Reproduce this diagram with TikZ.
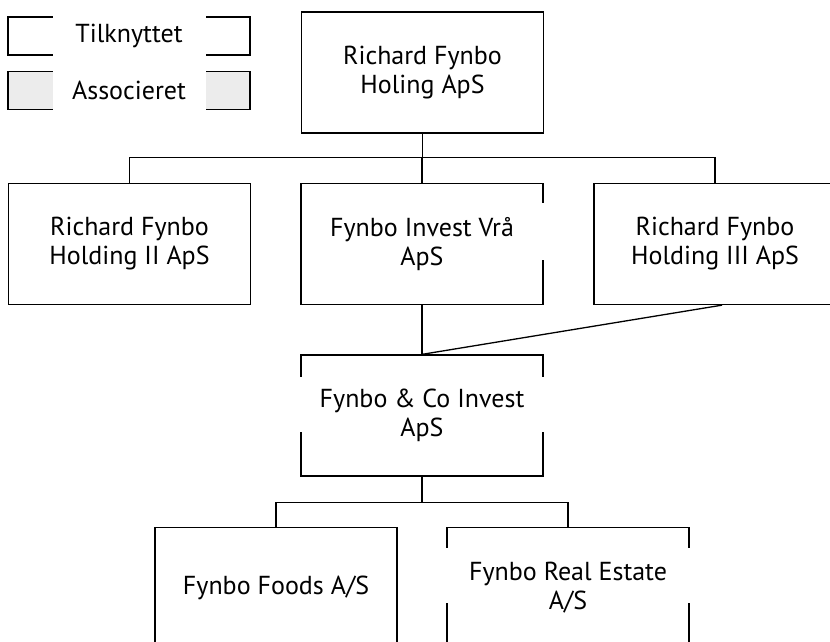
\documentclass[tikz,border=0pt]{standalone}
\usepackage{fontspec}
\setmainfont{PT Sans}
\usetikzlibrary{positioning}
\definecolor{assocgray}{RGB}{236,236,236}

\begin{document}
\begin{tikzpicture}[x=1pt, y=-1pt, line width=1.3pt,
  selskab/.style={draw, minimum width=242pt, minimum height=121pt, align=center, inner sep=0pt, font=\fontsize{26}{29}\selectfont},
  legende/.style={draw, minimum width=242pt, minimum height=38pt},
  legtekst/.style={fill=white, minimum width=153pt, minimum height=44pt, inner sep=0pt, font=\fontsize{26}{29}\selectfont}]
\useasboundingbox (0,0) rectangle (830,641);
\clip (0,0) rectangle (830,641);

% legende
\node[legende] (tilk) at (129,36) {};
\node[legtekst] (tilk-txt) at (tilk) {Tilknyttet};
\node[legende, fill=assocgray] (assoc) at (129,90.5) {};
\node[legtekst] (assoc-txt) at (assoc) {Associeret};

% selskaber
\node[selskab] (top) at (422.5,72.5) {Richard Fynbo\\Holing ApS};
\node[selskab] (hold2) at (129.5,244) {Richard Fynbo\\Holding II ApS};
\node[selskab] (vraa) at (422,244) {Fynbo Invest Vrå\\ApS};
\node[selskab] (hold3) at (715,244) {Richard Fynbo\\Holding III ApS};
\node[selskab] (coinv) at (422,415.5) {Fynbo \& Co Invest\\ApS};
\node[selskab] (foods) at (276,588) {Fynbo Foods A/S};
\node[selskab] (real) at (568,588) {Fynbo Real Estate\\A/S};

% afbrudte kanter
\fill[white] (537,203) rectangle (549,260);
\fill[white] (295,377) rectangle (307,432);
\fill[white] (537,377) rectangle (549,432);
\fill[white] (441,548) rectangle (453,603);
\fill[white] (683,548) rectangle (695,603);

% forbindelser
\draw (top.south) -- ++(0,24) coordinate (bus1);
\draw (hold2.north) |- (bus1) -| (hold3.north);
\draw (vraa.north) -- (vraa.north |- bus1);
\draw (vraa.south) -- (coinv.north);
\draw ([xshift=7pt]hold3.south) -- (coinv.north);
\draw (coinv.south) -- ++(0,26) coordinate (bus2);
\draw (foods.north) |- (bus2) -| (real.north);
\end{tikzpicture}
\end{document}
